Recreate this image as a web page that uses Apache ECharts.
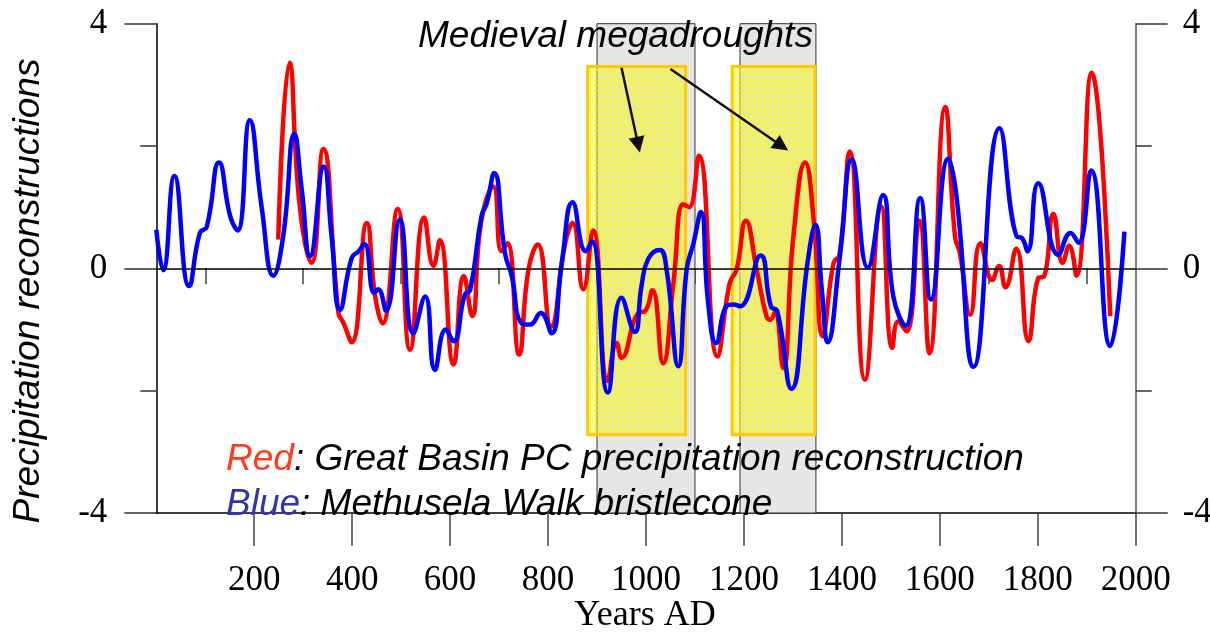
<!DOCTYPE html>
<html>
<head>
<meta charset="utf-8">
<script src="https://cdn.jsdelivr.net/npm/echarts@6/dist/echarts.min.js"></script>
<style>
  html, body { margin: 0; padding: 0; background: #ffffff; }
  #chart { width: 1210px; height: 636px; }
</style>
</head>
<body>
<div id="chart"></div>
<script>
// Great Basin PC precipitation reconstruction (red)
const redYears = [249, 272, 293, 317, 341, 372, 382, 399, 430, 447, 462, 493, 518, 547, 566, 579, 607, 628, 645, 663,
  688, 705, 717, 741, 760, 779, 806, 835, 850, 872, 892, 922, 940, 950, 984, 998, 1013, 1035, 1056, 1076,
  1088, 1108, 1146, 1171, 1185, 1204, 1226, 1246, 1254, 1263, 1280, 1301, 1325, 1343, 1361, 1383, 1395, 1416, 1447, 1480,
  1503, 1515, 1532, 1558, 1579, 1611, 1631, 1641, 1662, 1683, 1707, 1721, 1734, 1756, 1781, 1801, 1813, 1832, 1851, 1864,
  1879, 1910, 1948];
const redValues = [0.47, 3.36, 1.01, 0.09, 1.95, -0.73, -0.89, -1.21, 0.74, -0.46, -0.90, 0.97, -1.33, 0.83, 0.04, 0.46, -1.57, -0.13, -0.78, 0.74,
  1.34, 0.28, 0.41, -1.41, -0.02, 0.39, -0.95, 0.41, 0.74, -0.34, 0.62, -1.84, -1.22, -1.46, -0.73, -0.70, -0.36, -1.55, -0.24, 1.05,
  1.00, 1.84, -1.44, -0.24, -0.02, 0.78, -0.02, -0.78, -0.84, -0.72, -1.63, 0.52, 1.73, 0.74, -1.11, 0.09, 0.22, 1.91, -1.82, 1.01,
  -1.30, -0.87, -1.03, 0.78, -1.39, 2.64, 0.52, 0.25, -0.76, 0.41, -0.19, 0.04, -0.31, 0.32, -1.19, -0.16, -0.13, 0.89, 0.09, 0.37,
  -0.12, 3.20, -0.78];

// Methusela Walk bristlecone (blue)
const blueYears = [0, 14, 37, 67, 89, 103, 128, 151, 166, 191, 215, 239, 259, 282, 297, 314, 342, 358, 375, 399,
  413, 425, 445, 453, 469, 497, 525, 549, 569, 591, 607, 630, 641, 664, 675, 690, 712, 726, 745, 763,
  785, 807, 828, 850, 877, 890, 922, 950, 977, 991, 1005, 1028, 1042, 1066, 1083, 1097, 1112, 1127, 1143, 1165,
  1178, 1192, 1234, 1255, 1268, 1297, 1330, 1346, 1359, 1371, 1396, 1420, 1453, 1484, 1505, 1530, 1560, 1582, 1617, 1634,
  1669, 1722, 1757, 1767, 1779, 1801, 1842, 1867, 1883, 1909, 1948, 1977];
const blueValues = [0.63, -0.03, 1.51, -0.29, 0.58, 0.68, 1.73, 0.85, 0.62, 2.42, 1.01, -0.12, 0.52, 2.20, 1.29, 0.20, 1.66, 0.52, -0.68, 0.17,
  0.28, 0.40, -0.40, -0.34, -0.69, 0.80, -1.06, -0.46, -1.66, -1.00, -1.19, -0.43, -0.35, 0.85, 1.07, 1.56, 0.25, -0.13, -0.89, -0.92,
  -0.73, -1.06, 0.09, 1.08, 0.28, 0.44, -2.03, -0.48, -1.04, -0.28, 0.16, 0.30, -0.02, -1.60, -0.02, 0.41, 0.92, -0.57, -1.22, -0.61,
  -0.59, -0.62, 0.21, -0.62, -0.70, -1.97, 0.10, 0.71, -0.35, -1.21, 0.20, 1.78, 0.01, 1.20, -0.46, -0.94, 1.15, -0.51, 1.79, 1.18,
  -1.61, 2.29, 0.52, 0.50, 0.28, 1.39, 0.22, 0.58, 0.42, 1.60, -1.27, 0.60];

// Axis ticks and labels
const xMajorTicks = [200, 400, 600, 800, 1000, 1200, 1400, 1600, 1800, 2000];
const xMinorTicks = [100, 300, 500, 700, 900, 1100, 1300, 1500, 1700, 1900];

// Drought periods: grey spans (years) and highlighted boxes (years, values)
const droughtSpans = [[900, 1100], [1192, 1347]];
const highlightBoxes = [[881, 1081, -2.72, 3.30], [1176, 1345, -2.72, 3.30]];
// Annotation arrows: [fromYear, fromValue, toYear, toValue]
const arrows = [[950, 3.28, 984, 2.02], [1050, 3.26, 1277, 2.00]];

const SANS = 'Liberation Sans, Arial, sans-serif';
const SERIF = 'Liberation Serif, Times New Roman, serif';

const zip = (xs, ys) => xs.map((x, i) => [x, ys[i]]);

// Translucent yellow tile with a fine grid for the highlighted periods
function makeHatchTile() {
  const c = document.createElement('canvas');
  c.width = 5; c.height = 5;
  const g = c.getContext('2d');
  g.fillStyle = 'rgba(240,240,40,0.45)';
  g.fillRect(0, 0, 5, 5);
  g.clearRect(0, 0, 5, 1);
  g.clearRect(0, 0, 1, 5);
  g.fillStyle = 'rgba(255,250,0,0.7)';
  g.fillRect(0, 0, 5, 1);
  g.fillRect(0, 0, 1, 5);
  return c;
}

const chart = echarts.init(document.getElementById('chart'), null, { renderer: 'canvas' });

const yAxisBase = (position, lineColor, margin) => ({
  type: 'value',
  position: position,
  min: -4, max: 4, interval: 4,
  axisLine: { show: true, onZero: false, lineStyle: { color: lineColor, width: 1.5 } },
  axisTick: { show: true, inside: false, length: 32, lineStyle: { color: '#333', width: 1.5 } },
  minorTick: { show: true, splitNumber: 2, length: 16, lineStyle: { color: '#333', width: 1.5 } },
  axisLabel: { margin: margin, fontFamily: SERIF, fontSize: 35, color: '#000', formatter: v => String(v) },
  splitLine: { show: false },
  minorSplitLine: { show: false }
});

const option = {
  animation: false,
  backgroundColor: '#ffffff',
  grid: { left: 156.3, right: 74.3, top: 23.7, bottom: 123, containLabel: false, outerBoundsMode: 'none' },
  xAxis: [
    {
      type: 'value', min: 0, max: 2000, position: 'bottom',
      axisLine: { show: true, onZero: false, lineStyle: { color: '#000', width: 1.5 } },
      axisTick: { show: true, length: 33, customValues: xMajorTicks, lineStyle: { color: '#444', width: 1.5 } },
      axisLabel: { customValues: xMajorTicks, margin: 50, fontFamily: SERIF, fontSize: 35, color: '#000', formatter: v => String(v) },
      splitLine: { show: false }
    },
    {
      type: 'value', min: 0, max: 2000, position: 'bottom',
      axisLine: { show: false },
      axisTick: { show: true, length: 16, customValues: xMinorTicks, lineStyle: { color: '#444', width: 1.5 } },
      axisLabel: { show: false },
      splitLine: { show: false }
    }
  ],
  yAxis: [yAxisBase('left', '#000', 49), yAxisBase('right', '#555', 47)],
  series: [
    {
      name: 'spans', type: 'line', data: [], z: 1, silent: true,
      markArea: {
        silent: true,
        itemStyle: { color: '#e6e6e6', borderColor: '#333', borderWidth: 1 },
        data: droughtSpans.map(s => [{ xAxis: s[0], yAxis: -4 }, { xAxis: s[1], yAxis: 4 }])
      },
      markLine: {
        silent: true, symbol: 'none', animation: false,
        label: { show: false },
        lineStyle: { color: '#000', width: 1.5, type: 'solid' },
        data: [{ yAxis: 0 }]
      }
    },
    {
      name: 'Great Basin PC', type: 'line', z: 2,
      data: zip(redYears, redValues),
      smooth: 0.5, showSymbol: false,
      lineStyle: { color: '#ff0000', width: 4.5 }
    },
    {
      name: 'Methusela Walk', type: 'line', z: 3,
      data: zip(blueYears, blueValues),
      smooth: 0.5, showSymbol: false,
      lineStyle: { color: '#0000ff', width: 4.5 }
    },
    {
      name: 'arrows', type: 'line', data: [], z: 4, silent: true,
      markLine: {
        silent: true, animation: false,
        symbol: ['none', 'triangle'], symbolSize: 16,
        label: { show: false },
        lineStyle: { color: '#111', width: 2.5, type: 'solid' },
        itemStyle: { color: '#111' },
        data: arrows.map(a => [{ coord: [a[0], a[1]] }, { coord: [a[2], a[3]] }])
      }
    },
    {
      name: 'boxes', type: 'line', data: [], z: 5, silent: true,
      markArea: {
        silent: true,
        itemStyle: { color: { image: makeHatchTile(), repeat: 'repeat' }, borderColor: '#ffc800', borderWidth: 3 },
        data: highlightBoxes.map(b => [{ xAxis: b[0], yAxis: b[2] }, { xAxis: b[1], yAxis: b[3] }])
      }
    }
  ],
  graphic: [
    {
      type: 'text', x: 418, y: 37, z: 100,
      style: { text: 'Medieval megadroughts', font: 'italic 37px ' + SANS, fill: '#000', verticalAlign: 'middle', align: 'left' }
    },
    {
      type: 'text', x: 29, y: 291, rotation: Math.PI / 2, z: 100,
      style: { text: 'Precipitation reconstructions', font: 'italic 37px ' + SANS, fill: '#000', align: 'center', verticalAlign: 'middle' }
    },
    {
      type: 'text', x: 645, y: 616, z: 100,
      style: { text: 'Years AD', font: '36px ' + SERIF, fill: '#000', align: 'center', verticalAlign: 'middle' }
    },
    {
      type: 'text', x: 226, y: 460, z: 100,
      style: {
        text: '{r|Red}{k|: Great Basin PC precipitation reconstruction}',
        align: 'left', verticalAlign: 'middle',
        rich: {
          r: { fill: '#ff3a1f', font: 'italic 37px ' + SANS },
          k: { fill: '#000', font: 'italic 37px ' + SANS }
        }
      }
    },
    {
      type: 'text', x: 226, y: 505, z: 100,
      style: {
        text: '{b|Blue}{k|: Methusela Walk bristlecone}',
        align: 'left', verticalAlign: 'middle',
        rich: {
          b: { fill: '#3333aa', font: 'italic 37px ' + SANS },
          k: { fill: '#000', font: 'italic 37px ' + SANS }
        }
      }
    }
  ]
};

chart.setOption(option);
</script>
</body>
</html>
